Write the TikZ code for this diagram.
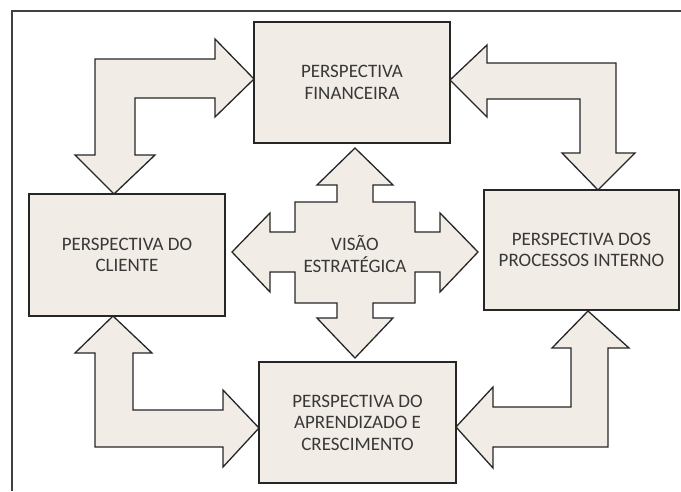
\documentclass[tikz,border=0pt]{standalone}
\usepackage{fontspec}
\setmainfont{Carlito}
\definecolor{boxfill}{RGB}{242,236,230}
\definecolor{boxtext}{RGB}{56,56,56}
\begin{document}
\begin{tikzpicture}[x=1pt,y=-1pt,
    box/.style={draw=black!85,line width=1.3pt,fill=boxfill,minimum width=#1,
      inner sep=0pt,align=center,text=boxtext,font=\fontsize{19}{21.5}\selectfont},
    blockarrow/.style={draw=black!85,line width=1.3pt,fill=boxfill,line join=miter}]
              \useasboundingbox (0,0) rectangle (681,491);

              % Frame
              \draw[line width=1.2pt,black!75] (681,11) -- (12,11) -- (12,491);

              % Boxes
              \node[box=196pt,minimum height=121pt] (fin) at (352,82.5) {PERSPECTIVA\\FINANCEIRA};
              \node[box=196pt,minimum height=122pt] (cli) at (127,255) {PERSPECTIVA DO\\CLIENTE};
              \node[box=195pt,minimum height=120pt] (proc) at (581.5,250) {PERSPECTIVA DOS\\PROCESSOS INTERNO};
              \node[box=197pt,minimum height=121pt] (apr) at (357.5,422.5) {PERSPECTIVA DO\\APRENDIZADO E\\CRESCIMENTO};

              % Elbow arrows
              \draw[blockarrow] (254,79) -- (215,39) -- (215,59) -- (95,59) -- (95,155) -- (75,155)
                -- (114,194) -- (155,155) -- (135,155) -- (135,98) -- (215,98) -- (215,117) -- cycle;
              \draw[blockarrow] (450,80) -- (487,45) -- (487,63) -- (616,63) -- (616,153) -- (635,153)
                -- (598,190) -- (562,153) -- (580,153) -- (580,99) -- (487,99) -- (487,117) -- cycle;
              \draw[blockarrow] (113,316) -- (152,353) -- (133,353) -- (133,410) -- (223,410) -- (223,390)
                -- (259,428) -- (223,467) -- (223,447) -- (95,447) -- (95,353) -- (75,353) -- cycle;
              \draw[blockarrow] (588,311) -- (629,348) -- (608,348) -- (608,447) -- (493,447) -- (493,468)
                -- (456,427) -- (493,387) -- (493,407) -- (571,407) -- (571,348) -- (552,348) -- cycle;

              % Cross
              \draw[blockarrow] (355,148) -- (393,185) -- (373,185) -- (373,202) -- (415,202) -- (415,232)
                -- (440,232) -- (440,213) -- (478,252) -- (440,292) -- (440,272) -- (415,272)
                -- (415,303) -- (373,303) -- (373,318) -- (393,318) -- (355,358) -- (317,318)
                -- (337,318) -- (337,303) -- (295,303) -- (295,272) -- (270,272) -- (270,292)
                -- (232,252) -- (270,213) -- (270,232) -- (295,232) -- (295,202) -- (337,202)
                -- (337,185) -- (317,185) -- cycle;
              \node[align=center,text=boxtext,font=\fontsize{19}{21.5}\selectfont] (vis) at (355,254) {VISÃO\\ESTRATÉGICA};
          \end{tikzpicture}
\end{document}
